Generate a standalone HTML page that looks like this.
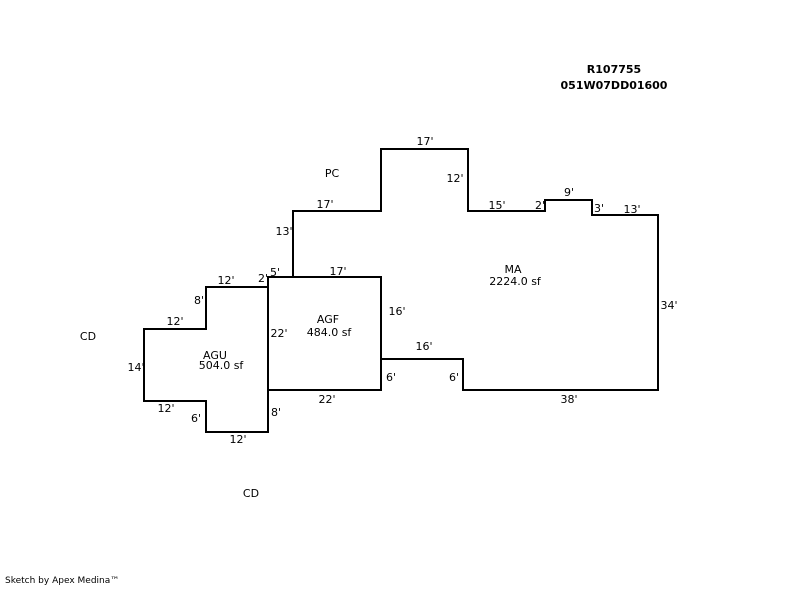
<!DOCTYPE html>
<html><head><style>
body{margin:0;background:#fff}
svg text{font-family:"DejaVu Sans","Liberation Sans",sans-serif;font-size:11px;fill:#000}
</style></head><body>
<svg width="800" height="587" xmlns="http://www.w3.org/2000/svg">
<g fill="none" stroke="#000" stroke-width="2">
<polyline points="293,277 293,211 381,211 381,149 468,149 468,211 545,211 545,200 592,200 592,215 658,215 658,390 463,390 463,359 381,359"/>
<rect x="268" y="277" width="113" height="113"/>
<polyline points="268,287 206,287 206,329 144,329 144,401 206,401 206,432 268,432 268,390"/>
</g>
<g text-anchor="middle">
<text x="614" y="73" font-weight="bold">R107755</text>
<text x="614" y="89" font-weight="bold">051W07DD01600</text>
<text x="425" y="145">17'</text>
<text x="332" y="177">PC</text>
<text x="455" y="182">12'</text>
<text x="325" y="208">17'</text>
<text x="497" y="209">15'</text>
<text x="540" y="209">2'</text>
<text x="569" y="196">9'</text>
<text x="599" y="212">3'</text>
<text x="632" y="213">13'</text>
<text x="284" y="235">13'</text>
<text x="513" y="273">MA</text>
<text x="515" y="285">2224.0 sf</text>
<text x="669" y="309">34'</text>
<text x="226" y="284">12'</text>
<text x="263" y="282">2'</text>
<text x="275" y="276">5'</text>
<text x="338" y="275">17'</text>
<text x="199" y="304">8'</text>
<text x="175" y="325">12'</text>
<text x="328" y="323">AGF</text>
<text x="329" y="336">484.0 sf</text>
<text x="279" y="337">22'</text>
<text x="397" y="315">16'</text>
<text x="88" y="340">CD</text>
<text x="424" y="350">16'</text>
<text x="215" y="359">AGU</text>
<text x="221" y="369">504.0 sf</text>
<text x="136" y="371">14'</text>
<text x="391" y="381">6'</text>
<text x="454" y="381">6'</text>
<text x="327" y="403">22'</text>
<text x="569" y="403">38'</text>
<text x="166" y="412">12'</text>
<text x="196" y="422">6'</text>
<text x="276" y="416">8'</text>
<text x="238" y="443">12'</text>
<text x="251" y="497">CD</text>
</g>
<text x="5" y="583" style="font-size:9px">Sketch by Apex Medina™</text>
</svg>
</body></html>
